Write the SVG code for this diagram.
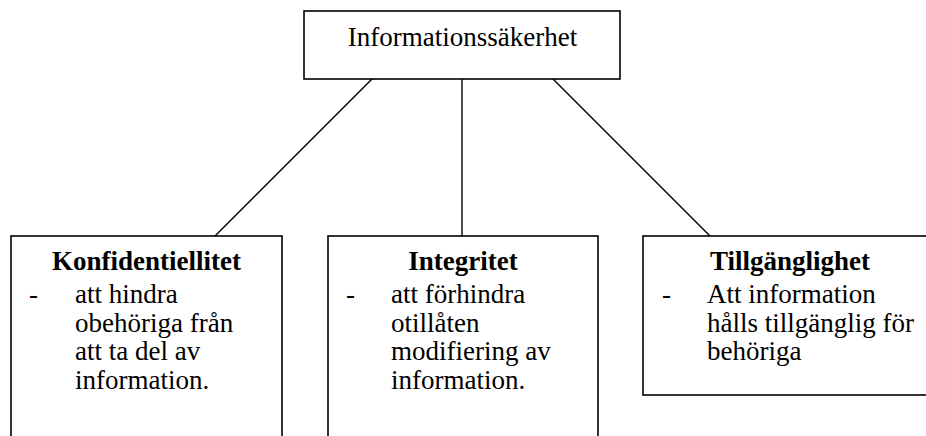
<svg xmlns="http://www.w3.org/2000/svg" width="926" height="436" viewBox="0 0 926 436">
<style>
.box{fill:#fff;stroke:#000;stroke-width:1.6}
.conn line{stroke:#000;stroke-width:1.4}
text{font-family:"Liberation Serif","Times New Roman",serif;font-size:27px;fill:#000}
.t{font-weight:bold;text-anchor:middle}
.c{text-anchor:middle}
</style>
<rect width="926" height="436" fill="#fff"/>
<g class="conn" id="connectors">
<line x1="372" y1="79" x2="215" y2="236"/>
<line x1="462" y1="79" x2="462" y2="236"/>
<line x1="553" y1="79" x2="710" y2="236"/>
</g>
<g id="root">
<rect class="box" x="304" y="11" width="316" height="68"/>
<text class="c" x="462.5" y="46">Informationssäkerhet</text>
</g>
<g id="konfidentiellitet">
<rect class="box" x="11" y="236" width="271" height="220"/>
<text class="t" x="146.5" y="270">Konfidentiellitet</text>
<text x="29" y="303">-</text>
<text x="75" y="303">att hindra</text>
<text x="75" y="331.5">obehöriga från</text>
<text x="75" y="360">att ta del av</text>
<text x="75" y="388.5">information.</text>
</g>
<g id="integritet">
<rect class="box" x="328" y="236" width="270" height="220"/>
<text class="t" x="463" y="270">Integritet</text>
<text x="346" y="303">-</text>
<text x="391" y="303">att förhindra</text>
<text x="391" y="331.5">otillåten</text>
<text x="391" y="360">modifiering av</text>
<text x="391" y="388.5">information.</text>
</g>
<g id="tillganglighet">
<rect class="box" x="643" y="236" width="300" height="159"/>
<text class="t" x="790" y="270">Tillgänglighet</text>
<text x="662" y="303">-</text>
<text x="707" y="303">Att information</text>
<text x="707" y="331.5">hålls tillgänglig för</text>
<text x="707" y="360">behöriga</text>
</g>
</svg>
